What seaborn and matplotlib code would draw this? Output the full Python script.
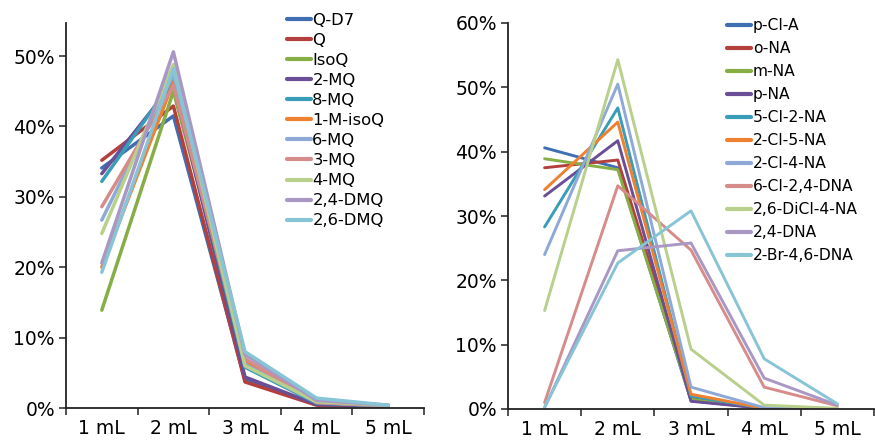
import numpy as np
import pandas as pd
import matplotlib
matplotlib.use('Agg')
import matplotlib.pyplot as plt
import seaborn as sns
from matplotlib.ticker import PercentFormatter, FixedLocator

volumes = ['1 mL', '2 mL', '3 mL', '4 mL', '5 mL']

# left panel: quinolines (fraction in %)
left_names = ['Q-D7', 'Q', 'IsoQ', '2-MQ', '8-MQ', '1-M-isoQ', '6-MQ',
              '3-MQ', '4-MQ', '2,4-DMQ', '2,6-DMQ']
q_d7 = [34.1, 41.5, 4.0, 0.5, 0.3]
q = [35.2, 42.9, 3.7, 0.4, 0.3]
isoq = [13.9, 45.0, 6.8, 0.8, 0.3]
mq2 = [33.3, 46.2, 4.4, 0.5, 0.3]
mq8 = [32.2, 46.6, 5.8, 0.7, 0.3]
m_isoq = [20.0, 46.3, 6.6, 0.8, 0.3]
mq6 = [26.7, 47.4, 6.2, 0.8, 0.3]
mq3 = [28.6, 45.8, 7.0, 0.8, 0.4]
mq4 = [24.8, 48.8, 6.0, 0.9, 0.4]
dmq24 = [20.6, 50.6, 7.6, 1.1, 0.4]
dmq26 = [19.3, 48.2, 8.0, 1.4, 0.4]
left_values = [q_d7, q, isoq, mq2, mq8, m_isoq, mq6, mq3, mq4, dmq24, dmq26]

# right panel: anilines (fraction in %)
right_names = ['p-Cl-A', 'o-NA', 'm-NA', 'p-NA', '5-Cl-2-NA', '2-Cl-5-NA',
               '2-Cl-4-NA', '6-Cl-2,4-DNA', '2,6-DiCl-4-NA', '2,4-DNA',
               '2-Br-4,6-DNA']
p_cl_a = [40.6, 37.5, 1.3, 0.1, 0.0]
o_na = [37.5, 38.7, 1.8, 0.1, 0.0]
m_na = [38.9, 37.2, 1.5, 0.1, 0.0]
p_na = [33.1, 41.7, 1.2, 0.1, 0.0]
cl5_na2 = [28.3, 46.8, 2.0, 0.1, 0.0]
cl2_na5 = [34.1, 44.6, 2.3, 0.1, 0.0]
cl2_na4 = [24.0, 50.5, 3.4, 0.2, 0.0]
cl6_dna24 = [1.0, 34.7, 24.7, 3.4, 0.5]
dicl26_na4 = [15.3, 54.3, 9.3, 0.6, 0.1]
dna24 = [0.2, 24.6, 25.8, 4.8, 0.6]
br2_dna46 = [0.3, 22.7, 30.8, 7.8, 0.8]
right_values = [p_cl_a, o_na, m_na, p_na, cl5_na2, cl2_na5, cl2_na4,
                cl6_dna24, dicl26_na4, dna24, br2_dna46]

colors = ['#3F6EB2', '#B4403D', '#86AE45', '#6A4E96', '#3A9DB8', '#EE8030',
          '#8EA9D6', '#D58C8A', '#B8D08C', '#A997C4', '#87C4D6']


def to_long(names, values):
    rows = []
    for name, vals in zip(names, values):
        for vol, v in zip(volumes, vals):
            rows.append({'volume': vol, 'compound': name, 'fraction': v / 100})
    return pd.DataFrame(rows)


sns.set_style('ticks')
plt.rcParams['font.family'] = ['DejaVu Sans']
plt.rcParams['text.color'] = 'black'

fig = plt.figure(figsize=(8.75, 4.43), dpi=100)
ax1 = fig.add_axes([66 / 875, 35 / 443, 358 / 875, 385 / 443])
ax2 = fig.add_axes([508 / 875, 34 / 443, 366 / 875, 386 / 443])


def draw(ax, names, values, lw, ymax, yticks, leg_xy, leg_fs, leg_space, hlen):
    df = to_long(names, values)
    sns.lineplot(data=df, x='volume', y='fraction', hue='compound',
                 hue_order=names, palette=colors, linewidth=lw, ax=ax,
                 sort=False)
    ax.set_xlim(-0.5, 4.5)
    ax.set_ylim(0, ymax)
    ax.set_yticks(yticks)
    ax.yaxis.set_major_formatter(PercentFormatter(1.0, decimals=0))
    ax.set_xlabel('')
    ax.set_ylabel('')
    ax.xaxis.set_minor_locator(FixedLocator(np.arange(-0.5, 5, 1.0)))
    ax.tick_params(axis='x', which='major', length=0, pad=8, labelsize=13.5,
                   labelcolor='black')
    ax.tick_params(axis='x', which='minor', length=5, width=1.2, color='#333333')
    ax.tick_params(axis='y', length=5, width=1.2, color='#333333', pad=3,
                   labelsize=13.5, labelcolor='black')
    for s in ['top', 'right']:
        ax.spines[s].set_visible(False)
    for s in ['left', 'bottom']:
        ax.spines[s].set_color('#222222')
        ax.spines[s].set_linewidth(1.3)
    leg = ax.legend(loc='upper left', bbox_to_anchor=leg_xy, frameon=False,
                    fontsize=leg_fs, handlelength=hlen, handletextpad=0.1,
                    labelspacing=leg_space, borderaxespad=0, borderpad=0)
    for text in leg.get_texts():
        text.set_color('black')
    for line in leg.get_lines():
        line.set_linewidth(3)


draw(ax1, left_names, left_values, 2.5, 0.547,
     [0, 0.1, 0.2, 0.3, 0.4, 0.5], (0.617, 1.027), 11.8, 0.31, 1.45)
draw(ax2, right_names, right_values, 2.1, 0.6,
     [0, 0.1, 0.2, 0.3, 0.4, 0.5, 0.6], (0.597, 1.013), 11.2, 0.515, 1.6)

fig.savefig('out.png', dpi=100)
